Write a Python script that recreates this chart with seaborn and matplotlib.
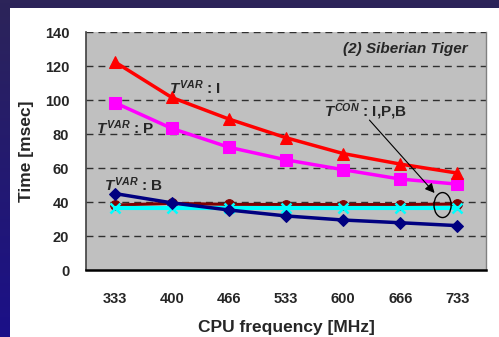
import numpy as np
import pandas as pd
import matplotlib
matplotlib.use("Agg")
import matplotlib.pyplot as plt
from matplotlib.patches import Ellipse, Rectangle
from matplotlib.colors import LinearSegmentedColormap
from matplotlib.ticker import FixedLocator
import seaborn as sns

# ---- data ----
freqs = ["333", "400", "466", "533", "600", "666", "733"]
var_I = [122.5, 101.5, 88.8, 77.8, 68.5, 62.3, 57.0]
var_P = [98.5, 83.3, 72.2, 64.8, 59.0, 53.5, 50.5]
var_B = [45.0, 39.5, 35.3, 31.8, 29.4, 27.8, 26.1]
con_I = [38.2, 39.2, 38.6, 38.5, 38.5, 38.5, 38.8]
con_P = [37.2, 37.2, 37.2, 37.2, 37.2, 37.2, 37.2]
con_B = [36.4, 36.4, 36.4, 36.4, 36.4, 36.4, 36.4]
y_ticks = [0, 20, 40, 60, 80, 100, 120, 140]

sns.set_style("white")
plt.rcParams['font.family'] = ['Liberation Sans', 'DejaVu Sans']
plt.rcParams['mathtext.fontset'] = 'custom'
plt.rcParams['mathtext.it'] = 'Liberation Sans:italic:bold'
plt.rcParams['mathtext.rm'] = 'Liberation Sans:bold'
plt.rcParams['mathtext.bf'] = 'Liberation Sans:bold'

fig = plt.figure(figsize=(4.99, 3.37), dpi=100)

# background gradient + white panel
bg = fig.add_axes([0, 0, 1, 1], zorder=-10)
cmap = LinearSegmentedColormap.from_list("navy", ["#2c2459", "#1b1088"])
bg.imshow(np.linspace(0, 1, 100).reshape(-1, 1), aspect='auto', cmap=cmap,
          extent=[0, 1, 0, 1], transform=bg.transAxes)
bg.add_patch(Rectangle((10 / 499, 0), 1, (337 - 8) / 337, transform=bg.transAxes,
                       facecolor="white", edgecolor="none"))
bg.set_axis_off()

ax = fig.add_axes([86 / 499, (337 - 270) / 337, 400 / 499, 238 / 337])
ax.set_facecolor("#c0c0c0")

pos = list(range(len(freqs)))
df = pd.DataFrame({"pos": pos, "I": var_I, "P": var_P, "B": var_B,
                   "cI": con_I, "cP": con_P, "cB": con_B})

sns.lineplot(data=df, x="pos", y="cP", ax=ax, color="#800080", lw=2.0,
             marker="*", markersize=7, markeredgecolor="#800080", zorder=2)
sns.lineplot(data=df, x="pos", y="cI", ax=ax, color="#800000", lw=2.2,
             marker="o", markersize=7, markeredgecolor="#800000", zorder=3)
sns.lineplot(data=df, x="pos", y="cB", ax=ax, color="#00ffff", lw=3.0,
             marker="x", markersize=7, markeredgewidth=1.8,
             markeredgecolor="#00ffff", zorder=4)
sns.lineplot(data=df, x="pos", y="B", ax=ax, color="#000080", lw=2.5,
             marker="D", markersize=6, markeredgecolor="#000080", zorder=5)
sns.lineplot(data=df, x="pos", y="P", ax=ax, color="#ff00ff", lw=2.5,
             marker="s", markersize=8, markeredgecolor="#ff00ff", zorder=5)
sns.lineplot(data=df, x="pos", y="I", ax=ax, color="#ff0000", lw=2.5,
             marker="^", markersize=8, markeredgecolor="#ff0000", zorder=5)

ax.set_xlim(-0.5, len(freqs) - 0.5)
ax.set_ylim(0, 140)
ax.set_yticks(y_ticks)
ax.set_xticks(pos)
ax.set_xticklabels(freqs)
ax.xaxis.set_minor_locator(FixedLocator([p + 0.5 for p in pos[:-1]]))
ax.tick_params(axis='x', which='major', length=0, pad=16, labelsize=10.5)
ax.tick_params(axis='x', which='minor', direction='in', length=5, width=1, color='black')
ax.tick_params(axis='y', which='major', direction='out', length=3, width=1,
               color='#404040', pad=9, labelsize=10.5)
for lab in ax.get_xticklabels() + ax.get_yticklabels():
    lab.set_fontweight('bold')

ax.grid(False)
for yv in y_ticks[1:]:
    ax.axhline(yv, color='#303030', lw=1, ls=(0, (5, 3.6)), zorder=1)

ax.spines['top'].set_visible(False)
ax.spines['right'].set_color('#808080')
ax.spines['right'].set_linewidth(1)
ax.spines['left'].set_color('#404040')
ax.spines['left'].set_linewidth(1.2)
ax.spines['bottom'].set_color('black')
ax.spines['bottom'].set_linewidth(1.8)

ax.set_xlabel("CPU frequency [MHz]", fontsize=12.5, fontweight='bold', labelpad=10)
ax.set_ylabel("Time [msec]", fontsize=12.5, fontweight='bold', labelpad=8)

tkw = dict(fontsize=11, fontweight='bold', ha='left', va='center', zorder=6)
ax.text(0.95, 107, r"$T^{VAR}$ : I", **tkw)
ax.text(-0.32, 83.5, r"$T^{VAR}$ : P", **tkw)
ax.text(-0.19, 50, r"$T^{VAR}$ : B", **tkw)
ax.text(3.67, 93, r"$T^{CON}$ : I,P,B", **tkw)
ax.text(6.18, 130, "(2) Siberian Tiger", fontsize=11, fontweight='bold',
        style='italic', ha='right', va='center')

ax.annotate("", xy=(5.6, 45.3), xytext=(4.46, 88.2),
            arrowprops=dict(arrowstyle='-|>', color='black', lw=0.8,
                            mutation_scale=14, shrinkA=0, shrinkB=0), zorder=7)
ax.add_patch(Ellipse((5.74, 38.2), 0.3, 14.7, fill=False, edgecolor='black',
                     lw=1, zorder=7))

fig.savefig("out.png", dpi=100)
